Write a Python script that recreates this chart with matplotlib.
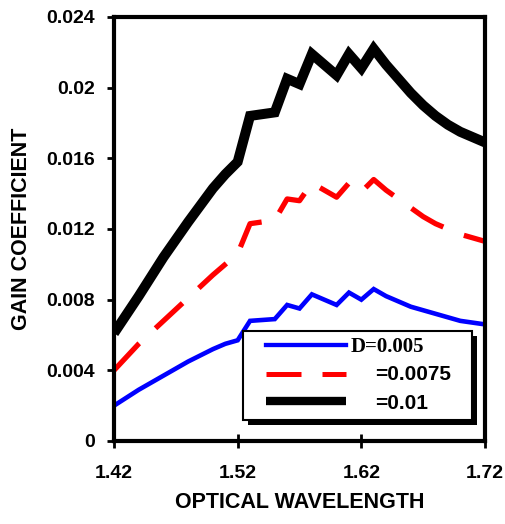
import matplotlib
matplotlib.use("Agg")
import matplotlib.pyplot as plt
from matplotlib.patches import Rectangle
from matplotlib.lines import Line2D

# wavelength (um) and gain for the three D values
wavelength = [1.42, 1.44, 1.46, 1.48, 1.50, 1.51, 1.52, 1.53, 1.55, 1.56,
              1.57, 1.58, 1.60, 1.61, 1.62, 1.63, 1.64, 1.65, 1.66, 1.67,
              1.68, 1.69, 1.70, 1.71, 1.72]
gain_d005 = [0.0020, 0.0029, 0.0037, 0.0045, 0.0052, 0.0055, 0.0057, 0.0068,
             0.0069, 0.0077, 0.0075, 0.0083, 0.0077, 0.0084, 0.0080, 0.0086,
             0.0082, 0.0079, 0.0076, 0.0074, 0.0072, 0.0070, 0.0068, 0.0067,
             0.0066]
gain_d0075 = [0.0040, 0.0055, 0.0068, 0.0081, 0.0094, 0.0100, 0.0106, 0.0123,
              0.0125, 0.0137, 0.0136, 0.0146, 0.0138, 0.0146, 0.0141, 0.0148,
              0.0142, 0.0137, 0.0132, 0.0127, 0.0123, 0.0120, 0.0117, 0.0115,
              0.0113]
gain_d01 = [0.0061, 0.0082, 0.0104, 0.0124, 0.0143, 0.0151, 0.0158, 0.0184,
            0.0186, 0.0205, 0.0202, 0.0219, 0.0207, 0.0219, 0.0211, 0.0222,
            0.0213, 0.0205, 0.0197, 0.0190, 0.0184, 0.0179, 0.0175, 0.0172,
            0.0169]

x_ticks = [1.42, 1.52, 1.62, 1.72]
y_ticks = [0, 0.004, 0.008, 0.012, 0.016, 0.02, 0.024]
y_tick_labels = ['0', '0.004', '0.008', '0.012', '0.016', '0.02', '0.024']
legend_labels = ['D=0.005', '=0.0075', '=0.01']

sans = 'Liberation Sans'
serif = 'Liberation Serif'

fig = plt.figure(figsize=(5.06, 5.24), dpi=100)
ax = fig.add_axes([0.2253, 0.1584, 0.7332, 0.8092])

ax.plot(wavelength, gain_d01, color='black', lw=7.2, solid_joinstyle='miter',
        solid_capstyle='butt', zorder=3)
ax.plot(wavelength, gain_d0075, color='red', lw=3.8, dashes=(7, 4.2),
        dash_capstyle='butt', zorder=3)
ax.plot(wavelength, gain_d005, color='blue', lw=3.3, solid_joinstyle='miter',
        zorder=3)

ax.set_xlim(1.42, 1.72)
ax.set_ylim(0, 0.024)
ax.set_xticks(x_ticks)
ax.set_xticklabels([('%.2f' % t) for t in x_ticks], fontfamily=sans,
                   fontweight='bold', fontsize=14)
ax.set_yticks(y_ticks)
ax.set_yticklabels(y_tick_labels, fontfamily=sans, fontweight='bold',
                   fontsize=14)
ax.tick_params(axis='x', direction='inout', length=10, width=2, pad=12)
ax.tick_params(axis='y', direction='out', length=5, width=2, pad=9)
for s in ax.spines.values():
    s.set_linewidth(3)
    s.set_zorder(5)

ax.set_xlabel('OPTICAL WAVELENGTH', fontfamily=sans, fontweight='bold',
              fontsize=15.5)
ax.set_ylabel('GAIN COEFFICIENT', fontfamily=sans, fontweight='bold',
              fontsize=15.5)
ax.xaxis.set_label_coords(0.5, -0.12)
ax.xaxis.label.set_va('top')
ax.yaxis.set_label_coords(-0.222, 0.5)

# legend box with a hard black shadow, drawn by hand
x0, x1, yb, yt = 0.3485, 0.9642, 0.0495, 0.2594
ax.add_patch(Rectangle((x0 + 0.0135, yb - 0.0118), x1 - x0, yt - yb,
                       transform=ax.transAxes, facecolor='black',
                       edgecolor='none', zorder=6))
ax.add_patch(Rectangle((x0, yb), x1 - x0, yt - yb, transform=ax.transAxes,
                       facecolor='white', edgecolor='black', lw=1.5,
                       zorder=7))
ax.add_line(Line2D([0.4097, 0.6253], [0.2264, 0.2264], color='blue', lw=3.1,
                   transform=ax.transAxes, zorder=8))
ax.add_line(Line2D([0.4097, 0.6253], [0.1573, 0.1573], color='red', lw=3.6,
                   dashes=(7, 4.2), dash_capstyle='butt',
                   transform=ax.transAxes, zorder=8))
ax.add_line(Line2D([0.4097, 0.6253], [0.0943, 0.0943], color='black', lw=6,
                   solid_capstyle='butt', transform=ax.transAxes, zorder=8))
ax.text(0.6388, 0.222, legend_labels[0], transform=ax.transAxes,
        fontfamily=serif, fontweight='bold', fontsize=15, va='center',
        zorder=9)
ax.text(0.7035, 0.1557, legend_labels[1], transform=ax.transAxes,
        fontfamily=sans, fontweight='bold', fontsize=15, va='center',
        zorder=9)
ax.text(0.7035, 0.0896, legend_labels[2], transform=ax.transAxes,
        fontfamily=sans, fontweight='bold', fontsize=15, va='center',
        zorder=9)

fig.savefig('out.png', dpi=100)
